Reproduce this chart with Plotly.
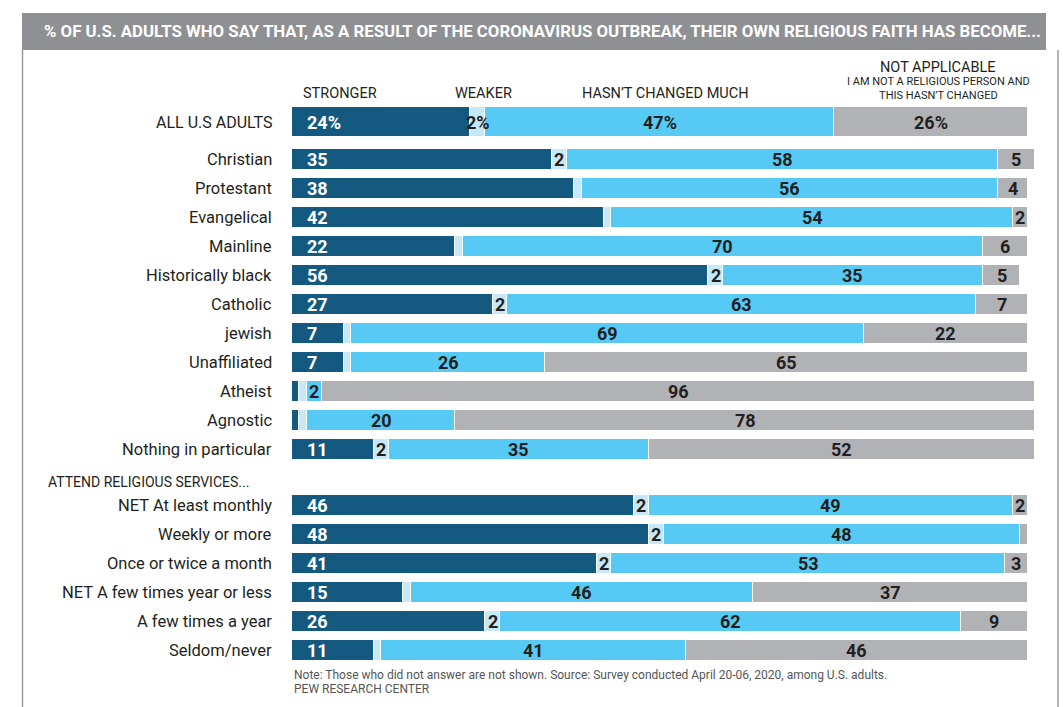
import plotly.graph_objects as go

# ---------------- data ----------------
title_text = "% OF U.S. ADULTS WHO SAY THAT, AS A RESULT OF THE CORONAVIRUS OUTBREAK, THEIR OWN RELIGIOUS FAITH HAS BECOME..."
categories = ["ALL U.S ADULTS", "Christian", "Protestant", "Evangelical", "Mainline",
              "Historically black", "Catholic", "jewish", "Unaffiliated", "Atheist",
              "Agnostic", "Nothing in particular",
              "NET At least monthly", "Weekly or more", "Once or twice a month",
              "NET A few times year or less", "A few times a year", "Seldom/never"]
group = [0] + [1] * 11 + [2] * 6
stronger = [24, 35, 38, 42, 22, 56, 27, 7, 7, 1, 1, 11, 46, 48, 41, 15, 26, 11]
weaker = [2, 2, 1, 1, 1, 2, 2, 1, 1, 1, 1, 2, 2, 2, 2, 1, 2, 1]
unchanged = [47, 58, 56, 54, 70, 35, 63, 69, 26, 2, 20, 35, 49, 48, 53, 46, 62, 41]
not_applicable = [26, 5, 4, 2, 6, 5, 7, 22, 65, 96, 78, 52, 2, 1, 3, 37, 9, 46]
series_names = ["STRONGER", "WEAKER", "HASN\u2019T CHANGED MUCH", "NOT APPLICABLE"]
na_sub = "I AM NOT A RELIGIOUS PERSON AND<br>THIS HASN\u2019T CHANGED"
section_label = "ATTEND RELIGIOUS SERVICES..."
note = "Note: Those who did not answer are not shown. Source: Survey conducted April 20-06, 2020, among U.S. adults."
source = "PEW RESEARCH CENTER"

# ---------------- layout helpers ----------------
W, H = 1063, 707
X0 = 292          # pixel of 0%
PX = 7.43         # pixels per percentage point
PITCH = 29
FONT = "Roboto, Liberation Sans, sans-serif"
colors = ["#145a80", "#c6e9f8", "#56caf5", "#b1b2b6"]
dark = "#231f20"

# vertical positions (pixel units, axis reversed)
ypos = []
y = 122
for i, g in enumerate(group):
    if i > 0:
        if group[i] != group[i - 1]:
            y += 37 if g == 1 else 56
        else:
            y += PITCH
    ypos.append(y)
widths = [30 if g == 0 else 21 for g in group]
section_y = ypos[group.index(2)] - 23

fig = go.Figure()
series = [stronger, weaker, unchanged, not_applicable]
for vals, col, name in zip(series, colors, series_names):
    fig.add_trace(go.Bar(
        y=ypos, x=vals, orientation="h", width=widths,
        marker=dict(color=col, line=dict(color="white", width=1)),
        name=name, showlegend=False, hoverinfo="x+name"))

ann = []
# value labels
for i in range(len(categories)):
    suffix = "%" if group[i] == 0 else ""
    start = 0
    for k, vals in enumerate(series):
        v = vals[i]
        if v >= 2:
            if k == 0:
                ann.append(dict(x=start, y=ypos[i], xref="x", yref="y", text=f"{v}{suffix}",
                                xanchor="left", xshift=13, showarrow=False,
                                font=dict(family=FONT, size=18, color="white", weight="bold")))
            else:
                ann.append(dict(x=start + v / 2, y=ypos[i], xref="x", yref="y", text=f"{v}{suffix}",
                                xanchor="center", showarrow=False,
                                font=dict(family=FONT, size=18, color=dark, weight="bold")))
        start += v
    ann.append(dict(x=274 / W, y=ypos[i], xref="paper", yref="y", text=categories[i],
                    xanchor="right", showarrow=False,
                    font=dict(family=FONT, size=16.5 if group[i] else 16, color=dark)))

ann.append(dict(x=46 / W, y=section_y, xref="paper", yref="y", text=section_label,
                xanchor="left", showarrow=False, font=dict(family=FONT, size=14, color=dark)))
# column headers
hdr_y = 93
hdr_font = dict(family=FONT, size=14.5, color=dark)
ann.append(dict(x=301 / W, y=hdr_y, xref="paper", yref="y", text=series_names[0], xanchor="left",
                showarrow=False, font=hdr_font))
ann.append(dict(x=453 / W, y=hdr_y, xref="paper", yref="y", text=series_names[1], xanchor="left",
                showarrow=False, font=hdr_font))
ann.append(dict(x=580 / W, y=hdr_y, xref="paper", yref="y", text=series_names[2], xanchor="left",
                showarrow=False, font=hdr_font))
ann.append(dict(x=938 / W, y=67, xref="paper", yref="y", text=series_names[3], xanchor="center",
                showarrow=False, font=hdr_font))
ann.append(dict(x=938 / W, y=88, xref="paper", yref="y", text=na_sub, xanchor="center",
                showarrow=False, font=dict(family=FONT, size=11, color=dark)))
# title
ann.append(dict(x=(45 + 1040) / 2 / W, y=31, xref="paper", yref="y", text=title_text,
                xanchor="center", showarrow=False,
                font=dict(family=FONT, size=16.8, color="white", weight="bold")))
# notes
ann.append(dict(x=292 / W, y=675, xref="paper", yref="y", text=note, xanchor="left",
                showarrow=False, font=dict(family=FONT, size=12, color="#555555")))
ann.append(dict(x=292 / W, y=689, xref="paper", yref="y", text=source, xanchor="left",
                showarrow=False, font=dict(family=FONT, size=12, color="#555555")))

shapes = [
    dict(type="rect", xref="paper", yref="y", x0=22 / W, x1=1046 / W, y0=13, y1=50,
         fillcolor="#8f9093", line=dict(width=0), layer="below"),
    dict(type="line", xref="paper", yref="y", x0=22.5 / W, x1=22.5 / W, y0=50, y1=H,
         line=dict(color="#9a9a9a", width=1.5)),
    dict(type="line", xref="paper", yref="y", x0=1058 / W, x1=1058 / W, y0=50, y1=H,
         line=dict(color="#9a9a9a", width=1.5)),
]

fig.update_layout(
    width=W, height=H, autosize=False,
    margin=dict(l=0, r=0, t=0, b=0),
    paper_bgcolor="white", plot_bgcolor="white",
    barmode="stack", bargap=0,
    xaxis=dict(range=[-X0 / PX, (W - X0) / PX], visible=False, fixedrange=True),
    yaxis=dict(range=[H, 0], visible=False, fixedrange=True),
    annotations=ann, shapes=shapes,
)

fig.write_html("out.html")
